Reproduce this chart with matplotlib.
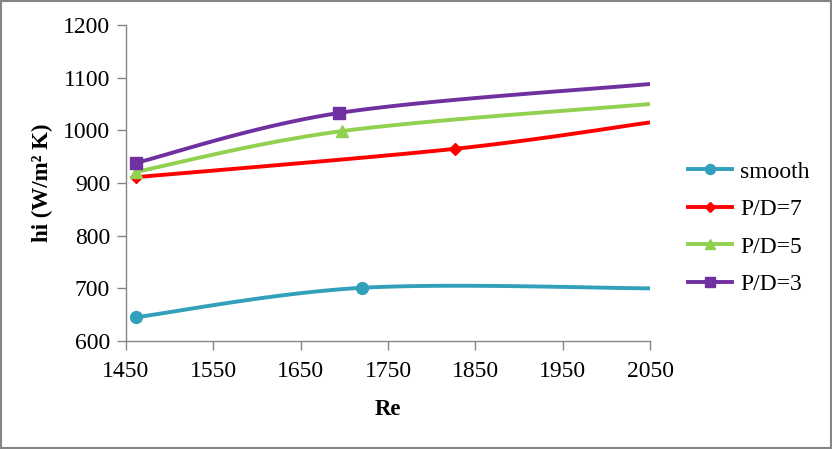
import numpy as np
import matplotlib
matplotlib.use("Agg")
import matplotlib.pyplot as plt
from matplotlib.lines import Line2D

plt.rcParams['font.family'] = ['Liberation Serif', 'DejaVu Serif']

# Data; the last point of each series lies on the axis edge (no marker)
series_names = ["smooth", "P/D=7", "P/D=5", "P/D=3"]
re_smooth = [1461, 1720, 2050]
hi_smooth = [645, 701, 700]
re_pd7 = [1461, 1827, 2050]
hi_pd7 = [911, 965, 1015]
re_pd5 = [1461, 1697, 2050]
hi_pd5 = [921, 998.5, 1050]
re_pd3 = [1461, 1694, 2050]
hi_pd3 = [938, 1033, 1088]

x_ticks = [1450, 1550, 1650, 1750, 1850, 1950, 2050]
y_ticks = [600, 700, 800, 900, 1000, 1100, 1200]

colors = ["#31A0BA", "#FF0000", "#92D050", "#7030A0"]
markers = ["o", "D", "^", "s"]
msizes = [8.5, 6.5, 8.5, 8]


def smooth_curve(xs, ys, n=60):
    """Excel-like smoothed line (Catmull-Rom Bezier, parametric)."""
    P = np.column_stack([xs, ys]).astype(float)
    out = []
    m = len(P)
    for i in range(m - 1):
        p0 = P[i - 1] if i > 0 else P[i]
        p1 = P[i]
        p2 = P[i + 1]
        p3 = P[i + 2] if i + 2 < m else P[i + 1]
        c1 = p1 + (p2 - p0) / 6.0
        c2 = p2 - (p3 - p1) / 6.0
        t = np.linspace(0, 1, n)[:, None]
        seg = ((1 - t) ** 3) * p1 + 3 * ((1 - t) ** 2) * t * c1 + 3 * (1 - t) * t ** 2 * c2 + t ** 3 * p2
        out.append(seg if i == 0 else seg[1:])
    c = np.vstack(out)
    return c[:, 0], c[:, 1]


fig = plt.figure(figsize=(8.32, 4.49), dpi=100)
ax = fig.add_axes([126 / 832, 1 - 341 / 449, 524 / 832, 316 / 449])

data = [(re_smooth, hi_smooth), (re_pd7, hi_pd7), (re_pd5, hi_pd5), (re_pd3, hi_pd3)]
handles = []
for (xs, ys), name, col, mk, ms in zip(data, series_names, colors, markers, msizes):
    cx, cy = smooth_curve(xs, ys)
    ax.plot(cx, cy, color=col, lw=2.8, solid_capstyle='butt', zorder=2)
    ax.plot(xs[:-1], ys[:-1], linestyle='none', marker=mk, color=col, markersize=ms, zorder=3)
    handles.append(Line2D([], [], color=col, lw=2.8, marker=mk, markersize=ms * 0.85, label=name))

ax.set_xlim(1450, 2050)
ax.set_ylim(600, 1200)
ax.set_xticks(x_ticks)
ax.set_yticks(y_ticks)
for s in ['top', 'right']:
    ax.spines[s].set_visible(False)
for s in ['left', 'bottom']:
    ax.spines[s].set_color('#868686')
    ax.spines[s].set_linewidth(1.0)
ax.tick_params(axis='both', colors='#868686', labelcolor='black', labelsize=17,
               direction='out', length=6.5, width=1.0)
ax.tick_params(axis='y', pad=5)
ax.tick_params(axis='x', pad=8)

ax.set_xlabel("Re", fontsize=16.5, fontweight='bold', labelpad=12)
ax.set_ylabel("hi (W/m² K)", fontsize=16.5, fontweight='bold', labelpad=7)

leg = fig.legend(handles=handles, loc='upper left', bbox_to_anchor=(688 / 832, 1 - 161 / 449),
                 frameon=False, fontsize=17, handlelength=1.85, labelspacing=0.68,
                 handletextpad=0.35, borderaxespad=0, borderpad=0)

fig.patches.append(plt.Rectangle((0.0015, 0.002), 0.997, 0.995, transform=fig.transFigure,
                                 fill=False, edgecolor='#868686', lw=1.5))

fig.savefig("out.png", dpi=100)
